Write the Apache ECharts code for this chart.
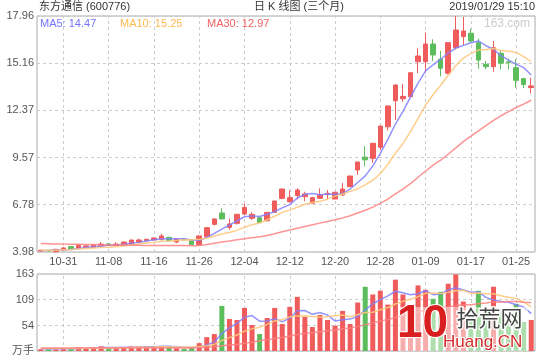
<!DOCTYPE html>
<html><head><meta charset="utf-8">
<script src="https://cdn.jsdelivr.net/npm/echarts@6/dist/echarts.min.js"></script>
<style>html,body{margin:0;padding:0;background:#fff}#c{width:540px;height:360px}</style>
</head><body><div id="c"></div><script>
const dates = ['10-26','10-29','10-30','10-31','11-01','11-02','11-05','11-06','11-07','11-08',
'11-09','11-12','11-13','11-14','11-15','11-16','11-19','11-20','11-21','11-22',
'11-23','11-26','11-27','11-28','11-29','11-30','12-03','12-04','12-05','12-06',
'12-07','12-10','12-11','12-12','12-13','12-14','12-17','12-18','12-19','12-20',
'12-21','12-24','12-25','12-26','12-27','12-28','01-02','01-03','01-04','01-07',
'01-08','01-09','01-10','01-11','01-14','01-15','01-16','01-17','01-18','01-21',
'01-22','01-23','01-24','01-25','01-28','01-29'];
const open = [4.04,4.06,4.00,4.10,4.30,4.22,4.26,4.24,4.33,4.46, 4.36,4.38,4.44,4.57,4.65,4.69,4.73,4.85,4.57,4.75,
4.69,4.41,4.89,5.62,6.29,5.44,5.68,6.23,5.98,6.01, 5.83,6.33,7.16,6.96,7.32,7.26,6.87,7.16,7.38,7.12,
7.36,7.85,8.84,9.60,9.53,10.18,11.40,12.94,13.06,13.18, 15.25,15.25,16.30,15.40,14.57,16.08,16.74,16.94,16.38,15.10,
14.96,15.75,15.25,14.90,14.25,13.72];
const close = [4.08,4.05,4.14,4.22,4.14,4.38,4.34,4.39,4.45,4.36, 4.45,4.57,4.69,4.69,4.73,4.81,4.93,4.65,4.73,4.70,
4.41,4.93,5.42,5.94,5.94,5.64,6.21,6.61,6.21,5.72, 6.33,7.00,7.71,7.20,7.65,7.42,7.20,7.36,7.46,7.52,
7.71,8.48,9.31,9.44,10.42,11.44,12.63,13.87,13.20,14.60, 15.59,16.30,15.65,14.86,16.38,17.13,17.07,16.48,15.35,14.96,
16.08,15.16,15.20,14.15,13.90,13.82];
const high = [4.10,4.10,4.15,4.26,4.32,4.42,4.38,4.40,4.57,4.50, 4.56,4.60,4.70,4.77,4.76,4.83,5.05,4.88,4.75,4.78,
4.72,4.96,5.44,5.96,6.57,5.95,6.25,6.84,6.33,6.05, 6.35,7.02,7.73,7.63,7.75,7.55,7.25,7.75,7.65,7.54,
8.06,8.50,9.33,10.26,10.44,11.46,12.65,13.90,13.93,14.62, 16.05,16.97,16.58,15.90,16.40,17.96,17.90,17.21,16.62,15.30,
16.48,15.90,15.43,15.40,14.30,14.30];
const low = [4.00,4.00,3.99,4.06,4.12,4.18,4.22,4.22,4.30,4.33, 4.33,4.36,4.42,4.50,4.63,4.67,4.65,4.60,4.50,4.68,
4.38,4.38,4.80,5.55,5.92,5.30,5.60,6.18,5.88,5.70, 5.80,6.30,7.10,6.90,7.10,7.00,6.84,7.12,7.10,7.10,
7.30,7.83,8.54,9.05,9.27,10.02,11.17,11.80,12.88,13.16, 14.57,14.60,15.30,14.38,14.50,15.98,16.23,16.38,14.84,14.80,
14.66,14.80,14.80,13.71,13.70,13.38];
const ma5 = [4.07,4.08,4.10,4.12,4.13,4.19,4.24,4.29,4.34,4.38, 4.40,4.44,4.50,4.55,4.63,4.70,4.77,4.76,4.77,4.76,
4.68,4.68,4.84,5.08,5.33,5.57,5.83,6.07,6.12,6.08, 6.22,6.37,6.59,6.79,7.18,7.40,7.44,7.37,7.42,7.39,
7.45,7.71,8.10,8.49,9.07,9.82,10.65,11.56,12.31,13.15, 13.98,14.71,15.07,15.40,15.76,16.06,16.22,16.38,16.48,16.20,
15.99,15.61,15.35,15.11,14.90,14.47];
const ma10 = [4.08,4.08,4.09,4.11,4.13,4.16,4.19,4.21,4.24,4.26, 4.29,4.34,4.40,4.45,4.51,4.55,4.61,4.63,4.66,4.70,
4.69,4.73,4.80,4.93,5.05,5.13,5.26,5.45,5.60,5.70, 5.90,6.10,6.33,6.46,6.63,6.81,6.91,6.98,7.11,7.29,
7.42,7.57,7.73,7.96,8.23,8.63,9.18,9.83,10.40,11.11, 11.90,12.68,13.31,13.86,14.45,15.02,15.47,15.73,15.94,15.98,
16.03,15.91,15.87,15.80,15.55,15.25];
const ma30 = [4.48,4.47,4.46,4.45,4.44,4.44,4.43,4.42,4.41,4.40, 4.40,4.39,4.38,4.38,4.37,4.37,4.37,4.36,4.36,4.36,
4.35,4.37,4.43,4.50,4.57,4.63,4.70,4.76,4.82,4.88, 4.96,5.06,5.18,5.28,5.39,5.49,5.59,5.69,5.79,5.89,
6.00,6.13,6.29,6.45,6.64,6.86,7.11,7.42,7.70,8.03, 8.41,8.78,9.13,9.42,9.77,10.15,10.52,10.84,11.15,11.46,
11.78,12.05,12.30,12.54,12.74,12.97];
const volume = [3.8,3.8,3.8,6,6,8,4.5,8,10,6, 8,7,10,10,10,9,10,10,6,4.5,
7.5,16.6,29.4,35.8,95.5,67.8,65.7,91.2,55,35.8, 69.9,91.2,57.1,93.4,114.7,72.1,50.7,76.3,65.7,53.5,
84.9,57.1,102.6,136,119.6,127.5,98.3,151,119.6,98.3, 138.8,129.6,110.4,125.4,142.4,162.3,104.7,88,127.5,85,
136,88,80,99.8,61.4,65.7];
const vma5 = [4.5,4.3,4.2,4.6,4.7,5.5,5.7,6.5,7.3,7.3, 7.3,7.8,8.2,8.2,9.0,9.2,9.8,9.8,9.0,7.9,
7.6,8.9,12.8,18.8,37.0,49.0,58.8,71.2,75.0,63.1, 63.5,68.6,61.8,69.5,85.3,85.7,77.6,81.4,75.9,63.7,
66.2,67.5,72.8,86.8,100.0,108.6,116.8,126.5,123.2,118.9, 121.2,127.5,119.3,120.5,129.3,134.0,129.0,124.6,125.0,113.5,
108.2,104.9,103.3,97.8,93.0,79.0];
const vma10 = [5.5,5.3,5.1,5.2,5.3,5.5,5.6,5.8,6.0,6.0, 6.4,6.7,7.4,7.8,8.2,8.3,8.8,9.0,8.6,8.5,
8.4,9.4,11.3,13.9,22.4,28.3,33.9,42.0,46.9,50.0, 56.3,63.7,66.5,72.3,74.2,74.6,73.1,71.6,72.7,74.5,
76.0,72.6,77.1,81.4,81.9,87.4,92.2,99.6,105.0,109.5, 114.9,122.1,122.9,121.9,124.1,127.6,128.3,122.0,122.7,121.4,
121.1,117.0,113.9,111.4,103.3,93.6];
const vma30 = [6.6,6.6,6.5,6.5,6.5,6.5,6.4,6.4,6.4,6.4, 6.4,6.3,6.3,6.3,6.3,6.4,6.4,6.4,6.4,6.4,
6.5,7.0,8.0,9.0,11.0,12.5,14.0,16.5,18.5,21.5, 23.7,26.6,28.4,31.3,34.9,37.1,38.6,40.9,42.7,44.3,
46.9,48.5,51.6,55.8,59.5,63.4,66.4,71.1,74.9,78.0, 82.4,86.1,88.8,91.8,93.4,96.5,97.8,97.7,100.1,101.8,
104.0,103.9,104.6,104.9,103.1,102.9];
const xTickDates = ['10-31','11-08','11-16','11-26','12-04','12-12','12-20','12-28','01-09','01-17','01-25'];
const priceTicks = [3.98, 6.78, 9.57, 12.37, 15.16, 17.96];
const volTicks = [0, 54, 109, 163];
const legendItems = [['MA5: 14.47','#7474ff',40],['MA10: 15.25','#ffb84d',120],['MA30: 12.97','#f06262',207]];

const RED = '#f05b5b', GREEN = '#5cbd5c';
const C5 = 'rgba(128,128,255,0.85)', C10 = 'rgba(255,200,128,0.9)', C30 = 'rgba(255,128,128,0.85)';
const FONT = '"Liberation Sans", Arial, "Noto Sans CJK SC", sans-serif';
const grid = { color: '#ccc', type: [3, 3], width: 1 };

const chart = echarts.init(document.getElementById('c'), null, { renderer: 'canvas' });
function vLines() {
  return { silent: true, symbol: ['none', 'none'], label: { show: false }, z: 1,
    lineStyle: grid, emphasis: { disabled: true }, animation: false,
    data: xTickDates.map(d => ({ xAxis: d })) };
}
function maLine(name, data, color, xi, yi) {
  return { name, type: 'line', data, xAxisIndex: xi, yAxisIndex: yi, showSymbol: false, symbol: 'none',
    lineStyle: { color, width: 1.5 }, z: 3, silent: true };
}
chart.setOption({
  animation: false,
  textStyle: { fontFamily: FONT },
  grid: [
    { left: 37, right: 5, top: 16, height: 236, show: true, borderColor: '#aaa', borderWidth: 1, backgroundColor: 'transparent', containLabel: false, outerBoundsMode: 'none' },
    { left: 37, right: 5, top: 274, height: 77, show: true, borderColor: '#aaa', borderWidth: 1, backgroundColor: 'transparent', containLabel: false, outerBoundsMode: 'none' }
  ],
  xAxis: [
    { type: 'category', gridIndex: 0, data: dates, boundaryGap: true,
      axisLine: { show: false }, axisTick: { show: false }, splitLine: { show: false },
      axisLabel: { interval: (i, v) => xTickDates.indexOf(v) >= 0, color: '#555', fontSize: 11, margin: 4, fontFamily: FONT } },
    { type: 'category', gridIndex: 1, data: dates, boundaryGap: true,
      axisLine: { show: false }, axisTick: { show: false }, splitLine: { show: false }, axisLabel: { show: false } }
  ],
  yAxis: [
    { type: 'value', gridIndex: 0, min: 3.98, max: 17.96, scale: true,
      axisLine: { show: false }, axisTick: { show: false, customValues: priceTicks },
      axisLabel: { customValues: priceTicks, formatter: v => v.toFixed(2), color: '#555', fontSize: 11, margin: 3, fontFamily: FONT },
      splitLine: { show: true, lineStyle: grid } },
    { type: 'value', gridIndex: 1, min: 0, max: 163,
      axisLine: { show: false }, axisTick: { show: false, customValues: volTicks },
      axisLabel: { customValues: volTicks, formatter: v => v === 0 ? '万手' : String(v), color: '#555', fontSize: 11, margin: 3, fontFamily: FONT },
      splitLine: { show: true, lineStyle: grid } }
  ],
  series: [
    { type: 'line', xAxisIndex: 0, yAxisIndex: 0, data: dates.map(() => null), symbol: 'none', z: 1, silent: true, markLine: vLines() },
    { type: 'line', xAxisIndex: 1, yAxisIndex: 1, data: dates.map(() => null), symbol: 'none', z: 1, silent: true, markLine: vLines() },
    { type: 'candlestick', xAxisIndex: 0, yAxisIndex: 0, barWidth: 5, z: 2,
      data: dates.map((d, i) => [open[i], close[i], low[i], high[i]]),
      itemStyle: { color: RED, color0: GREEN, borderColor: RED, borderColor0: GREEN, borderWidth: 1 } },
    maLine('MA5', ma5, C5, 0, 0), maLine('MA10', ma10, C10, 0, 0), maLine('MA30', ma30, C30, 0, 0),
    { type: 'bar', xAxisIndex: 1, yAxisIndex: 1, barWidth: 5, z: 2,
      data: volume.map((v, i) => ({ value: v, itemStyle: { color: close[i] >= open[i] ? RED : GREEN } })) },
    maLine('VMA5', vma5, C5, 1, 1), maLine('VMA10', vma10, C10, 1, 1), maLine('VMA30', vma30, C30, 1, 1)
  ],
  graphic: [
    { type: 'text', left: 39, top: 1, style: { text: '东方通信 (600776)', fill: '#333', font: '11px ' + FONT } },
    { type: 'text', left: 254, top: 1, style: { text: '日 K 线图 (三个月)', fill: '#333', font: '11px ' + FONT } },
    { type: 'text', right: 5, top: 1, style: { text: '2019/01/29 15:10', fill: '#333', font: '11px ' + FONT } },
    ...legendItems.map(([t, c, x]) => ({ type: 'text', left: x, top: 18, z: 10, style: { text: t, fill: c, font: '11px ' + FONT } })),
    { type: 'text', right: 10, top: 18, z: 10, style: { text: '163.com', fill: '#ccc', font: '12px ' + FONT } },
    { type: 'rect', left: 398, top: 307, z: 20, shape: { width: 130, height: 44 }, style: { fill: 'rgba(255,255,255,0.5)' } },
    { type: 'text', left: 396, top: 300, z: 21, style: { text: '10', fill: '#d81e1e', font: 'bold 46px ' + FONT, stroke: '#fff', lineWidth: 2 } },
    { type: 'text', left: 455, top: 305, z: 21, style: { text: '拾荒网', fill: '#444', font: '22px "Noto Sans CJK SC", sans-serif', stroke: 'rgba(255,255,255,0.9)', lineWidth: 3 } },
    { type: 'text', left: 442, top: 333, z: 21, style: { text: 'Huang.CN', fill: '#d42a2a', font: '17px ' + FONT, stroke: '#fff', lineWidth: 2 } }
  ]
});
</script></body></html>
